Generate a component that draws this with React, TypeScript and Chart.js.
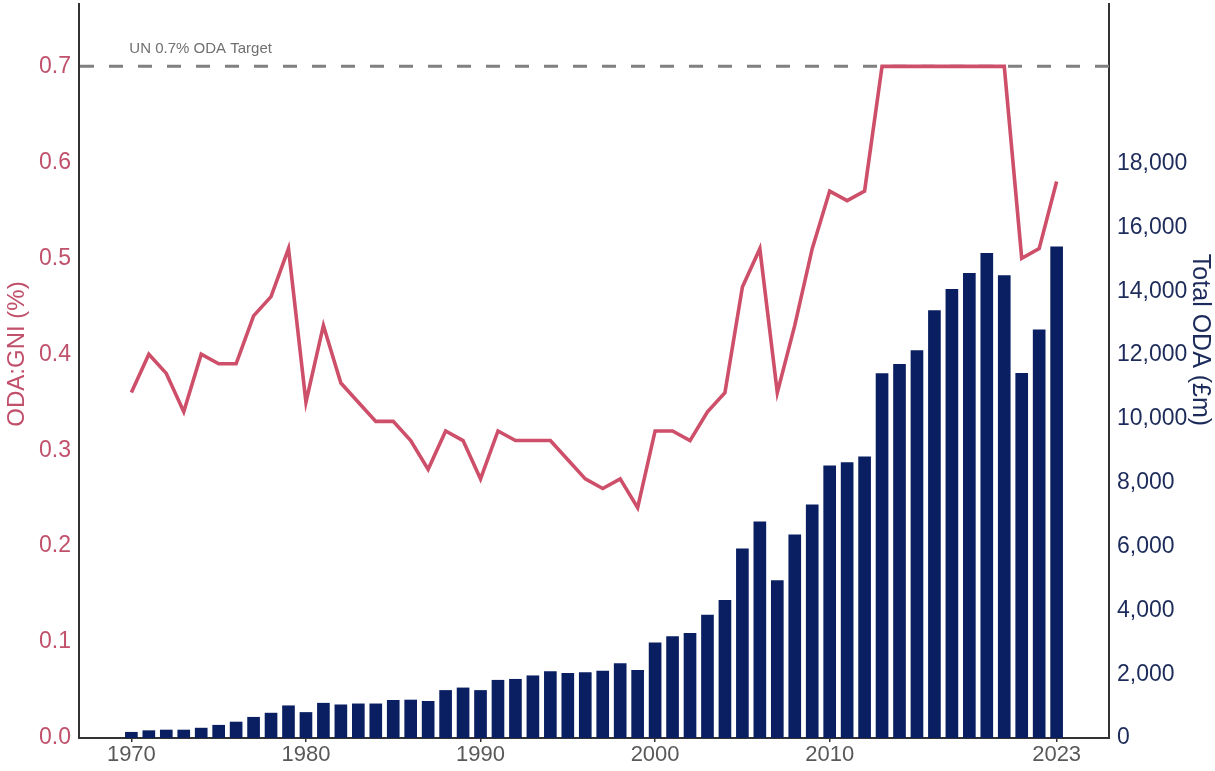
import { useEffect, useRef } from 'react'
import { Chart, registerables } from 'chart.js'

Chart.register(...registerables)

const years = [
    1970, 1971, 1972, 1973, 1974, 1975, 1976, 1977, 1978, 1979,
    1980, 1981, 1982, 1983, 1984, 1985, 1986, 1987, 1988, 1989,
    1990, 1991, 1992, 1993, 1994, 1995, 1996, 1997, 1998, 1999,
    2000, 2001, 2002, 2003, 2004, 2005, 2006, 2007, 2008, 2009,
    2010, 2011, 2012, 2013, 2014, 2015, 2016, 2017, 2018, 2019,
    2020, 2021, 2022, 2023,
]

// ODA as a share of GNI (%)
const odaGniPct = [
    0.36, 0.40, 0.38, 0.34, 0.40, 0.39, 0.39, 0.44, 0.46, 0.51,
    0.35, 0.43, 0.37, 0.35, 0.33, 0.33, 0.31, 0.28, 0.32, 0.31,
    0.27, 0.32, 0.31, 0.31, 0.31, 0.29, 0.27, 0.26, 0.27, 0.24,
    0.32, 0.32, 0.31, 0.34, 0.36, 0.47, 0.51, 0.36, 0.43, 0.51,
    0.57, 0.56, 0.57, 0.70, 0.70, 0.70, 0.70, 0.70, 0.70, 0.70,
    0.70, 0.50, 0.51, 0.58,
]

// Total ODA (£m)
const totalOda = [
    180, 230, 250, 250, 310, 400, 500, 650, 780, 1010,
    800, 1090, 1040, 1070, 1070, 1180, 1190, 1150, 1490, 1570,
    1490, 1810, 1840, 1950, 2080, 2030, 2050, 2100, 2330, 2120,
    2980, 3180, 3280, 3850, 4310, 5930, 6770, 4930, 6370, 7310,
    8530, 8630, 8810, 11420, 11710, 12140, 13390, 14060, 14560, 15190,
    14490, 11430, 12790, 15390,
]

const xTickYears = [1970, 1980, 1990, 2000, 2010, 2023]
const leftTicks = [0, 0.1, 0.2, 0.3, 0.4, 0.5, 0.6, 0.7]
const rightTicks = [0, 2000, 4000, 6000, 8000, 10000, 12000, 14000, 16000, 18000]

const targetPct = 0.7
const targetLabel = 'UN 0.7% ODA Target'
const leftTitle = 'ODA:GNI (%)'
const rightTitle = 'Total ODA (£m)'

const FONT = '"Liberation Sans", Arial, sans-serif'
const PINK = '#c1506b'
const NAVY = '#1c2b5a'
const AXIS = '#333333'

// dashed 0.7% target line with its label, under the datasets
const targetLine = {
    id: 'targetLine',
    beforeDatasetsDraw(chart: any) {
        const { ctx, chartArea, scales } = chart
        const y = scales.y.getPixelForValue(targetPct)
        ctx.save()
        ctx.strokeStyle = '#808080'
        ctx.lineWidth = 3
        ctx.setLineDash([14, 15])
        ctx.beginPath()
        ctx.moveTo(chartArea.left + 1, y)
        ctx.lineTo(chartArea.right, y)
        ctx.stroke()
        ctx.setLineDash([])
        ctx.fillStyle = '#707070'
        ctx.font = `15px ${FONT}`
        ctx.textAlign = 'left'
        ctx.textBaseline = 'alphabetic'
        ctx.fillText(targetLabel, scales.x.getPixelForValue(1970) - 2, y - 13)
        ctx.restore()
    },
}

// axis titles, placed like the ggplot original (not centred on the panel)
const axisTitles = {
    id: 'axisTitles',
    afterDraw(chart: any) {
        const { ctx } = chart
        ctx.save()
        ctx.textAlign = 'center'
        ctx.textBaseline = 'middle'
        ctx.fillStyle = PINK
        ctx.font = `24px ${FONT}`
        ctx.translate(17, 354)
        ctx.rotate(-Math.PI / 2)
        ctx.fillText(leftTitle, 0, 0)
        ctx.restore()

        ctx.save()
        ctx.textAlign = 'center'
        ctx.textBaseline = 'middle'
        ctx.fillStyle = NAVY
        ctx.font = `25px ${FONT}`
        ctx.translate(1200, 340)
        ctx.rotate(Math.PI / 2)
        ctx.fillText(rightTitle, 0, 0)
        ctx.restore()
    },
}

export default function App() {
    const canvasRef = useRef<HTMLCanvasElement>(null)
    const chartRef = useRef<Chart | null>(null)

    useEffect(() => {
        document.body.style.margin = '0'
        if (!canvasRef.current) return
        const ctx = canvasRef.current.getContext('2d')
        if (!ctx) return

        Chart.defaults.font.family = FONT

        chartRef.current = new Chart(ctx, {
            type: 'bar',
            data: {
                datasets: [
                    {
                        type: 'line',
                        label: 'ODA:GNI (%)',
                        data: years.map((yr, i) => ({ x: yr, y: odaGniPct[i] })),
                        yAxisID: 'y',
                        borderColor: '#cd4f69',
                        borderWidth: 3.6,
                        pointRadius: 0,
                        tension: 0,
                        order: 0,
                    },
                    {
                        type: 'bar',
                        label: 'Total ODA (£m)',
                        data: years.map((yr, i) => ({ x: yr, y: totalOda[i] })),
                        yAxisID: 'y2',
                        backgroundColor: '#0a1f62',
                        borderWidth: 0,
                        barThickness: 12,
                        order: 1,
                    },
                ] as any,
            },
            options: {
                responsive: true,
                maintainAspectRatio: false,
                animation: false,
                layout: { padding: { top: 4, left: 0, right: 0, bottom: 0 } },
                plugins: {
                    legend: { display: false },
                    tooltip: { enabled: false },
                },
                scales: {
                    x: {
                        type: 'linear',
                        min: 1967,
                        max: 2026,
                        offset: false,
                        grid: {
                            display: true,
                            offset: false,
                            drawOnChartArea: false,
                            drawTicks: true,
                            tickLength: 4,
                            color: AXIS,
                            lineWidth: 1.5,
                        },
                        border: { display: true, color: AXIS, width: 2 },
                        ticks: {
                            color: '#595959',
                            font: { size: 22 },
                            padding: 0,
                            autoSkip: false,
                            maxRotation: 0,
                            callback: (v: any) => String(v),
                        },
                        afterBuildTicks: (s: any) => {
                            s.ticks = xTickYears.map((v) => ({ value: v }))
                        },
                        afterFit: (s: any) => {
                            s.height = 33
                            s.paddingLeft = 0
                            s.paddingRight = 0
                        },
                    },
                    y: {
                        type: 'linear',
                        position: 'left',
                        min: 0,
                        max: 0.765,
                        grid: { display: false, drawTicks: false },
                        border: { display: true, color: AXIS, width: 2 },
                        ticks: {
                            color: PINK,
                            font: { size: 23 },
                            padding: 8,
                            callback: (v: any) => Number(v).toFixed(1),
                        },
                        afterBuildTicks: (s: any) => {
                            s.ticks = leftTicks.map((v) => ({ value: v }))
                        },
                        afterFit: (s: any) => {
                            s.width = 79
                            s.paddingTop = 0
                            s.paddingBottom = 0
                        },
                    },
                    y2: {
                        type: 'linear',
                        position: 'right',
                        min: 0,
                        max: 23000,
                        grid: { display: false, drawTicks: false },
                        border: { display: true, color: AXIS, width: 2 },
                        ticks: {
                            color: NAVY,
                            font: { size: 23 },
                            padding: 8,
                            callback: (v: any) => Number(v).toLocaleString('en-US'),
                        },
                        afterBuildTicks: (s: any) => {
                            s.ticks = rightTicks.map((v) => ({ value: v }))
                        },
                        afterFit: (s: any) => {
                            s.width = 106
                            s.paddingTop = 0
                            s.paddingBottom = 0
                        },
                    },
                },
            },
            plugins: [targetLine, axisTitles],
        })

        return () => {
            if (chartRef.current) {
                chartRef.current.destroy()
                chartRef.current = null
            }
        }
    }, [])

    return (
        <div style={{ position: 'relative', width: 1215, height: 771 }}>
            <canvas ref={canvasRef} aria-label="UK ODA:GNI ratio and total ODA, 1970-2023" role="img"></canvas>
        </div>
    )
}
